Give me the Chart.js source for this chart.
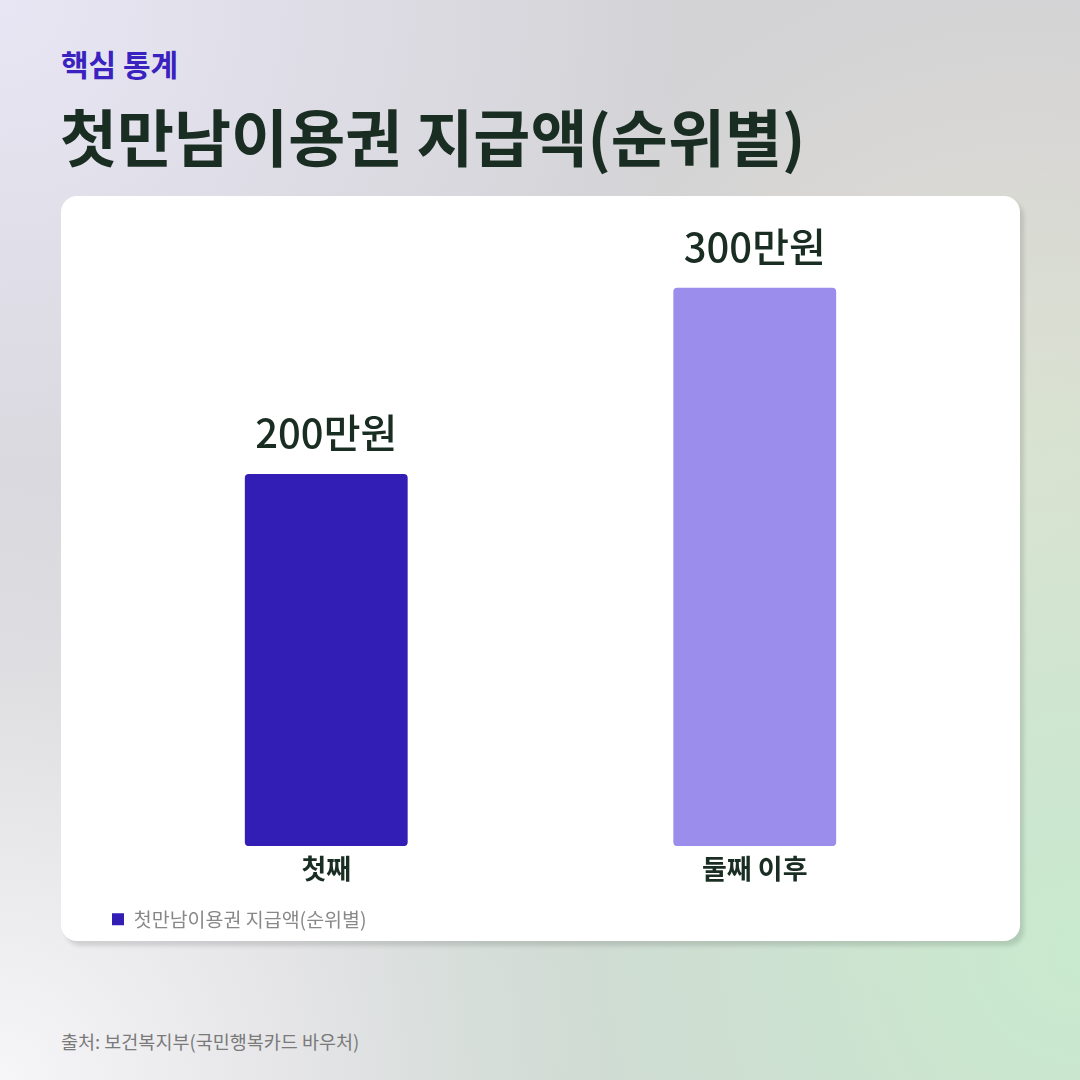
<!DOCTYPE html>
<html><head><meta charset="utf-8">
<script src="https://cdn.jsdelivr.net/npm/chart.js@4.4.0/dist/chart.umd.min.js"></script>
<style>
html,body{margin:0;padding:0;width:1080px;height:1080px;overflow:hidden;font-family:"Noto Sans CJK KR","Noto Sans",sans-serif;}
body{position:relative;background:
radial-gradient(circle at 100% 88%, rgba(200,235,205,0.95) 0%, rgba(200,235,205,0) 55%),
radial-gradient(circle at 95% 45%, rgba(228,224,210,0.9) 0%, rgba(228,224,210,0) 45%),
radial-gradient(circle at 0% 0%, rgba(232,230,244,1) 0%, rgba(232,230,244,0) 45%),
radial-gradient(circle at 0% 100%, rgba(246,246,248,1) 0%, rgba(246,246,248,0) 40%),
#d3d3d6;}
.kicker{position:absolute;left:61px;top:48px;font-size:30px;line-height:1;font-weight:700;color:#3a22c0;}
.title{position:absolute;left:60px;top:104px;font-size:62px;line-height:1;font-weight:700;color:#1a2d22;}
.card{position:absolute;left:61px;top:196px;width:959px;height:745px;background:#fff;border-radius:16px;box-shadow:4px 5px 4px rgba(0,0,0,0.12);}
.card canvas{position:absolute;left:0;top:0;}
.source{position:absolute;left:61px;top:1028px;font-size:18.5px;color:#7a7a7a;}
</style></head>
<body>
<div class="kicker">핵심 통계</div>
<div class="title">첫만남이용권 지급액(순위별)</div>
<div class="card"><canvas id="c" width="959" height="745"></canvas></div>
<div class="source">출처: 보건복지부(국민행복카드 바우처)</div>
<script>
const categories = ["첫째", "둘째 이후"];
const values = [200, 300];
const valueLabels = ["200만원", "300만원"];
const seriesName = "첫만남이용권 지급액(순위별)";
const barColors = ["#321eb4", "#9b8dec"];

const labelPlugin = {
  id: 'valLabels',
  afterDatasetsDraw(chart) {
    const ctx = chart.ctx;
    const meta = chart.getDatasetMeta(0);
    ctx.save();
    ctx.font = '500 40px "Noto Sans CJK KR"';
    ctx.fillStyle = '#1a2d22';
    ctx.textAlign = 'center';
    ctx.textBaseline = 'alphabetic';
    meta.data.forEach((bar, i) => {
      ctx.fillText(valueLabels[i], bar.x, bar.y - 26);
    });
    ctx.restore();
  }
};

new Chart(document.getElementById('c'), {
  type: 'bar',
  data: {
    labels: categories,
    datasets: [{
      label: seriesName,
      data: values,
      backgroundColor: barColors,
      borderRadius: 4,
      borderSkipped: false,
      barPercentage: 0.38,
      categoryPercentage: 1.0
    }]
  },
  options: {
    responsive: false,
    animation: false,
    devicePixelRatio: 1,
    layout: { padding: { left: 51, right: 51, top: 36, bottom: 2 } },
    scales: {
      x: {
        grid: { display: false, drawTicks: false },
        border: { display: false },
        ticks: { color: '#1a2d22', font: { family: 'Noto Sans CJK KR', size: 27, weight: '700' }, padding: 6 },
        afterFit(scale) { scale.height += 19; }
      },
      y: {
        display: false,
        min: 0,
        max: 330
      }
    },
    plugins: {
      legend: {
        position: 'bottom',
        align: 'start',
        labels: {
          boxWidth: 12, boxHeight: 12,
          color: '#888888',
          font: { family: 'Noto Sans CJK KR', size: 19.5 },
          padding: 0,
          generateLabels: () => [{ text: seriesName, fillStyle: barColors[0], strokeStyle: barColors[0], fontColor: '#888888', lineWidth: 0, datasetIndex: 0 }]
        }
      },
      tooltip: { enabled: false }
    }
  },
  plugins: [labelPlugin]
});
</script>
</body></html>
